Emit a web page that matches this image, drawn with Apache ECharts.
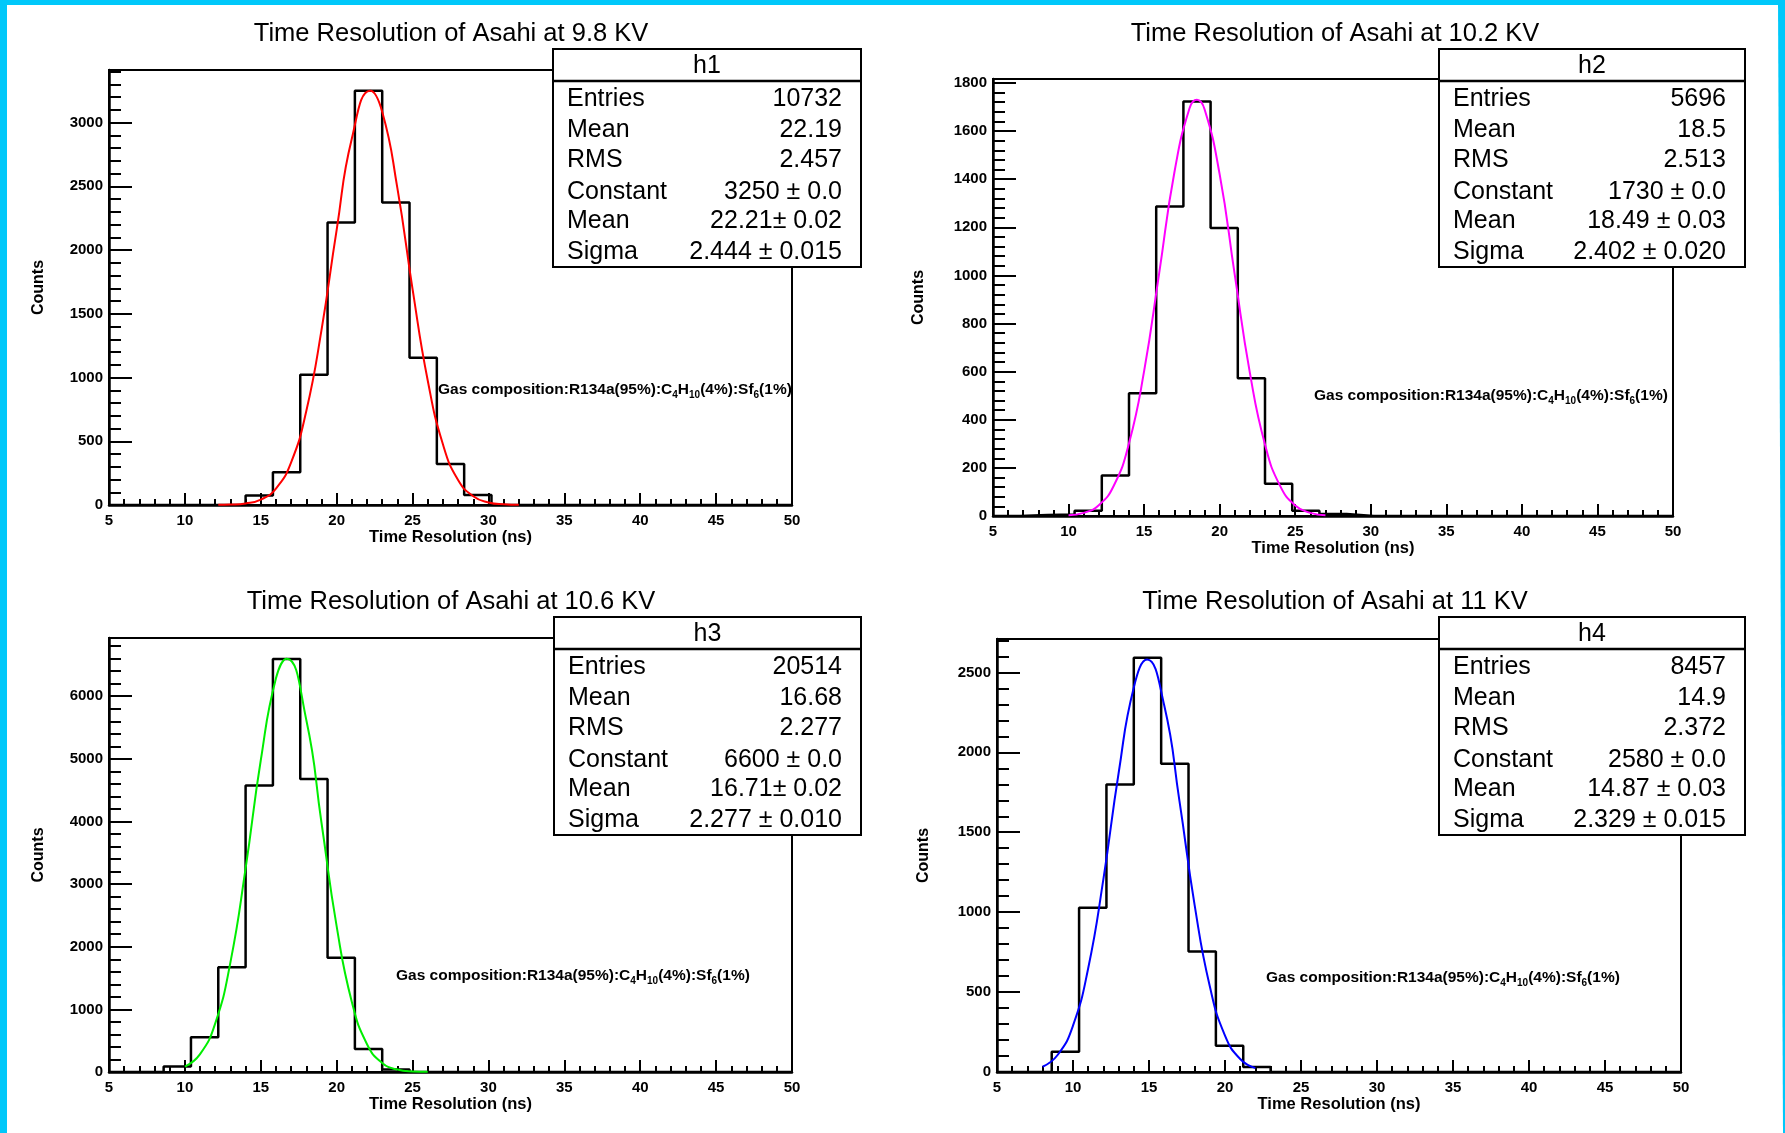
<!DOCTYPE html>
<html>
<head>
<meta charset="utf-8">
<title>Time Resolution of Asahi</title>
<script src="https://cdn.jsdelivr.net/npm/echarts@6/dist/echarts.min.js"></script>
<style>
html, body { margin: 0; padding: 0; background: #fff; }
#chart { width: 1785px; height: 1133px; }
</style>
</head>
<body>
<div id="chart"></div>
<script>
// bin edges of the histograms (ns), 25 bins between 5 and 50
const binEdges = [5, 6.8, 8.6, 10.4, 12.2, 14, 15.8, 17.6, 19.4, 21.2, 23, 24.8, 26.6,
  28.4, 30.2, 32, 33.8, 35.6, 37.4, 39.2, 41, 42.8, 44.6, 46.4, 48.2, 50]

// bin contents
const counts98 = [0, 0, 0, 0, 0, 75, 257, 1021, 2216, 3250, 2373, 1156, 322, 78, 0, 0, 0, 0, 0, 0, 0, 0, 0, 0, 0]
const counts102 = [0, 4, 6, 22, 168, 510, 1287, 1723, 1197, 573, 134, 22, 8, 0, 0, 0, 0, 0, 0, 0, 0, 0, 0, 0, 0]
const counts106 = [0, 0, 87, 553, 1672, 4573, 6594, 4677, 1823, 367, 41, 0, 0, 0, 0, 0, 0, 0, 0, 0, 0, 0, 0, 0, 0]
const counts110 = [0, 0, 126, 1028, 1798, 2591, 1929, 754, 165, 32, 0, 0, 0, 0, 0, 0, 0, 0, 0, 0, 0, 0, 0, 0, 0]

// points along the gaussian fit curves
const fit98X = [12.2, 13, 14, 15, 16, 17, 18, 19, 20, 21, 22.21, 23, 24, 25, 26, 27, 28, 29, 30, 31, 32]
const fit98Y = [1, 3, 12, 42, 129, 335, 737, 1372, 2159, 2875, 3250, 3085, 2486, 1694, 977, 476, 196, 69, 20, 5, 1]
const fit102X = [10, 11, 12, 13, 14, 15, 16, 17, 18, 18.49, 19, 20, 21, 22, 23, 24, 25, 26, 27]
const fit102Y = [3, 13, 45, 127, 302, 602, 1011, 1427, 1694, 1730, 1691, 1420, 1002, 595, 297, 125, 44, 13, 3]
const fit106X = [10, 11, 12, 13, 14, 15, 16, 16.71, 18, 19, 20, 21, 22, 23, 24, 25, 26]
const fit106Y = [86, 285, 777, 1751, 3250, 4978, 6287, 6600, 5621, 3980, 2324, 1119, 444, 145, 39, 9, 2]
const fit110X = [8, 9, 10, 11, 12, 13, 14, 14.87, 16, 17, 18, 19, 20, 21, 22]
const fit110Y = [33, 108, 290, 649, 1207, 1869, 2406, 2580, 2294, 1698, 1046, 536, 228, 81, 24]

// titles, stat boxes, axis ranges
const titles = ['Time Resolution of Asahi at 9.8 KV', 'Time Resolution of Asahi at 10.2 KV',
  'Time Resolution of Asahi at 10.6 KV', 'Time Resolution of Asahi at 11 KV']
const histNames = ['h1', 'h2', 'h3', 'h4']
const statNames = ['Entries', 'Mean', 'RMS', 'Constant', 'Mean', 'Sigma']
const stats98 = ['10732', '22.19', '2.457', '3250 \u00b1 0.0', '22.21\u00b1 0.02', '2.444 \u00b1 0.015']
const stats102 = ['5696', '18.5', '2.513', '1730 \u00b1 0.0', '18.49 \u00b1 0.03', '2.402 \u00b1 0.020']
const stats106 = ['20514', '16.68', '2.277', '6600 \u00b1 0.0', '16.71\u00b1 0.02', '2.277 \u00b1 0.010']
const stats110 = ['8457', '14.9', '2.372', '2580 \u00b1 0.0', '14.87 \u00b1 0.03', '2.329 \u00b1 0.015']
const yMax = [3412.5, 1816.5, 6930, 2709]
const yStep = [500, 200, 1000, 500]
const yMinorStep = [100, 40, 200, 100]
const xTitle = 'Time Resolution (ns)'
const yTitle = 'Counts'

const counts = [counts98, counts102, counts106, counts110]
const fitX = [fit98X, fit102X, fit106X, fit110X]
const fitY = [fit98Y, fit102Y, fit106Y, fit110Y]
const stats = [stats98, stats102, stats106, stats110]
const fitColors = ['#ff0000', '#ff00ff', '#00ee00', '#0000ff']

// pad layout in pixels
const pads = [
  { left: 109, top: 70, width: 683, height: 435, title: [451, 34], box: [553, 49, 308, 218], gas: [438, 390], gapY: 62 },
  { left: 993, top: 79, width: 680, height: 437, title: [1335, 34], box: [1439, 49, 306, 218], gas: [1314, 396], gapY: 66 },
  { left: 109, top: 638, width: 683, height: 434, title: [451, 602], box: [554, 617, 307, 218], gas: [396, 976], gapY: 62 },
  { left: 997, top: 639, width: 684, height: 433, title: [1335, 602], box: [1439, 617, 306, 218], gas: [1266, 978], gapY: 65 }
]
const rowOffsets = [50, 81.5, 111.5, 143, 172.5, 203]

const FONT = "'Liberation Sans', Arial, Helvetica, sans-serif"
const chart = echarts.init(document.getElementById('chart'))

function histLine(c) {
  const pts = [[binEdges[0], 0]]
  c.forEach((v, i) => {
    pts.push([binEdges[i], v], [binEdges[i + 1], v])
  })
  pts.push([binEdges[binEdges.length - 1], 0])
  return pts
}

const grid = []
const xAxis = []
const yAxis = []
const series = []
const graphic = [
  { type: 'rect', shape: { x: 0, y: 0, width: 7, height: 1133 }, style: { fill: '#00c8fa' }, z: 100 },
  { type: 'rect', shape: { x: 0, y: 0, width: 1785, height: 5 }, style: { fill: '#00c8fa' }, z: 100 },
  { type: 'polygon', shape: { points: [[1778, 0], [1785, 0], [1785, 1133], [1783, 1133]] }, style: { fill: '#00c8fa' }, z: 100 }
]

pads.forEach((p, i) => {
  grid.push({
    left: p.left, top: p.top, width: p.width, height: p.height,
    show: true, borderColor: '#000', borderWidth: 2, backgroundColor: 'transparent',
    outerBoundsMode: 'none'
  })

  xAxis.push({
    type: 'value', gridIndex: i, min: 5, max: 50, interval: 5,
    name: xTitle, nameLocation: 'middle', nameGap: 22,
    nameTextStyle: { color: '#000', fontFamily: FONT, fontSize: 16.5, fontWeight: 'bold' },
    axisLine: { show: true, onZero: false, lineStyle: { color: '#000', width: 2.5 } },
    axisTick: { inside: true, length: 12, lineStyle: { color: '#000', width: 2 } },
    minorTick: { show: true, splitNumber: 5, length: 6, lineStyle: { color: '#000', width: 2 } },
    axisLabel: { color: '#000', fontFamily: FONT, fontSize: 15, fontWeight: 'bold', margin: 8, showMinLabel: true, showMaxLabel: true },
    splitLine: { show: false }
  })

  // major ticks + labels
  yAxis.push({
    type: 'value', gridIndex: i, position: 'left', offset: 0, min: 0, max: yMax[i], interval: yStep[i],
    name: yTitle, nameLocation: 'middle', nameGap: p.gapY,
    nameTextStyle: { color: '#000', fontFamily: FONT, fontSize: 16, fontWeight: 'bold' },
    axisLine: { show: true, onZero: false, lineStyle: { color: '#000', width: 2.5 } },
    axisTick: { inside: true, length: 23, lineStyle: { color: '#000', width: 2 } },
    axisLabel: {
      color: '#000', fontFamily: FONT, fontSize: 15, fontWeight: 'bold', margin: 6, showMaxLabel: false,
      formatter: v => String(v)
    },
    splitLine: { show: false }
  })
  // minor ticks
  yAxis.push({
    type: 'value', gridIndex: i, position: 'left', offset: 0, min: 0, max: yMax[i], interval: yMinorStep[i],
    axisLine: { show: false },
    axisTick: { inside: true, length: 12, lineStyle: { color: '#000', width: 2 } },
    axisLabel: { show: false },
    splitLine: { show: false }
  })

  series.push({
    type: 'line', xAxisIndex: i, yAxisIndex: i * 2,
    data: histLine(counts[i]),
    symbol: 'none', lineStyle: { color: '#000', width: 2.5 }, z: 3
  })
  series.push({
    type: 'line', xAxisIndex: i, yAxisIndex: i * 2,
    data: fitX[i].map((x, k) => [x, fitY[i][k]]),
    smooth: true, symbol: 'none', lineStyle: { color: fitColors[i], width: 2 }, z: 4
  })

  graphic.push({
    type: 'text', x: p.title[0], y: p.title[1], z: 50,
    style: { text: titles[i], fill: '#000', fontFamily: FONT, fontSize: 25.5, align: 'center', verticalAlign: 'middle' }
  })

  const [bx, by, bw, bh] = p.box
  graphic.push({
    type: 'rect', z: 50, shape: { x: bx, y: by, width: bw, height: bh },
    style: { fill: '#fff', stroke: '#000', lineWidth: 2 }
  })
  graphic.push({
    type: 'line', z: 51, shape: { x1: bx, y1: by + 32, x2: bx + bw, y2: by + 32 },
    style: { stroke: '#000', lineWidth: 2.5 }
  })
  graphic.push({
    type: 'text', z: 52, x: bx + bw / 2, y: by + 17,
    style: { text: histNames[i], fill: '#000', fontFamily: FONT, fontSize: 25, align: 'center', verticalAlign: 'middle' }
  })
  statNames.forEach((name, k) => {
    const ry = by + rowOffsets[k]
    graphic.push({
      type: 'text', z: 52, x: bx + 14, y: ry,
      style: { text: name, fill: '#000', fontFamily: FONT, fontSize: 25, align: 'left', verticalAlign: 'middle' }
    })
    graphic.push({
      type: 'text', z: 52, x: bx + bw - 19, y: ry,
      style: { text: stats[i][k], fill: '#000', fontFamily: FONT, fontSize: 25, align: 'right', verticalAlign: 'middle' }
    })
  })

  graphic.push({
    type: 'text', z: 52, x: p.gas[0], y: p.gas[1],
    style: {
      text: '{b|Gas composition:R134a(95%):C}{s|4}{b|H}{s|10}{b|(4%):Sf}{s|6}{b|(1%)}',
      align: 'left', verticalAlign: 'middle',
      rich: {
        b: { fill: '#000', fontFamily: FONT, fontSize: 15.5, fontWeight: 'bold' },
        s: { fill: '#000', fontFamily: FONT, fontSize: 10, fontWeight: 'bold', padding: [10, 0, 0, 0] }
      }
    }
  })
})

chart.setOption({
  animation: false,
  backgroundColor: '#fff',
  grid,
  xAxis,
  yAxis,
  series,
  graphic
})
</script>
</body>
</html>
